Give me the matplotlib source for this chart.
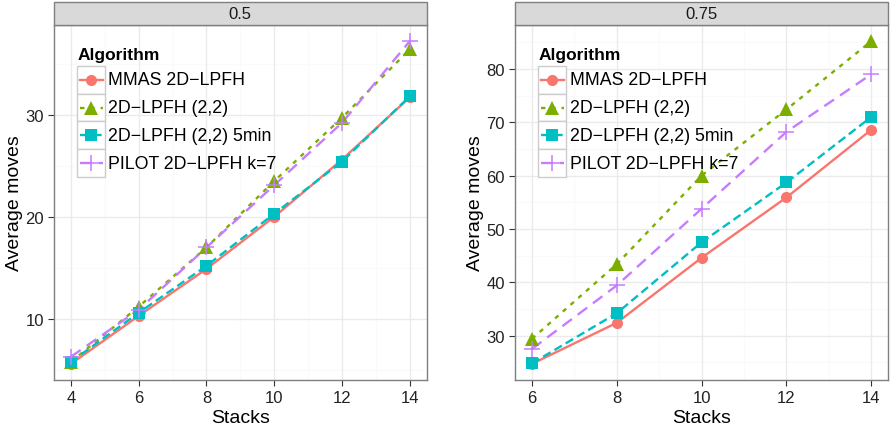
import numpy as np
import matplotlib
matplotlib.use("Agg")
import matplotlib.pyplot as plt
from matplotlib.patches import Rectangle
from matplotlib.lines import Line2D

plt.rcParams['font.family'] = ['Liberation Sans', 'DejaVu Sans']
plt.rcParams['lines.scale_dashes'] = False

# Dane
algorytmy = ["MMAS 2D\u2212LPFH", "2D\u2212LPFH (2,2)", "2D\u2212LPFH (2,2) 5min", "PILOT 2D\u2212LPFH k=7"]
panele = ["0.5", "0.75"]

stosy_05 = [4, 6, 8, 10, 12, 14]
ruchy_05 = {
    "MMAS 2D\u2212LPFH":        [5.6, 10.3, 14.9, 20.0, 25.6, 31.7],
    "2D\u2212LPFH (2,2)":       [5.8, 11.2, 17.0, 23.5, 29.7, 36.4],
    "2D\u2212LPFH (2,2) 5min":  [5.8, 10.6, 15.2, 20.3, 25.4, 31.8],
    "PILOT 2D\u2212LPFH k=7":   [6.3, 10.9, 17.0, 23.1, 29.2, 37.2],
}
stosy_075 = [6, 8, 10, 12, 14]
ruchy_075 = {
    "MMAS 2D\u2212LPFH":        [24.7, 32.4, 44.6, 55.9, 68.6],
    "2D\u2212LPFH (2,2)":       [29.4, 43.4, 60.0, 72.4, 85.2],
    "2D\u2212LPFH (2,2) 5min":  [24.8, 34.2, 47.5, 58.7, 71.0],
    "PILOT 2D\u2212LPFH k=7":   [27.5, 39.4, 53.8, 68.2, 79.0],
}

# Styl
kolory = ["#F8766D", "#7CAE00", "#00BFC4", "#C77CFF"]
markery = ["o", "^", "s", "+"]
rozmiary = [8, 9.5, 8.5, 12]
kreski = [None, (0, (3.2, 4.2)), (0, (6.2, 3.2)), (0, (8.5, 5.2))]
grubosc = 1.7

figura = plt.figure(figsize=(8.9, 4.31), dpi=100)
osie = [figura.add_axes([54 / 890, 50 / 431, 372.7 / 890, 355 / 431]),
        figura.add_axes([515 / 890, 50 / 431, 373.3 / 890, 355 / 431])]

ustawienia = [
    (stosy_05, ruchy_05, [4, 6, 8, 10, 12, 14], [10, 20, 30], np.arange(5, 14, 2), [5, 15, 25, 35]),
    (stosy_075, ruchy_075, [6, 8, 10, 12, 14], [30, 40, 50, 60, 70, 80], [7, 9, 11, 13], np.arange(25, 90, 10)),
]

for os, nazwa, (x, dane, xt, yt, xm, ym) in zip(osie, panele, ustawienia):
    wszystkie = np.concatenate([dane[a] for a in algorytmy])
    zakres = wszystkie.max() - wszystkie.min()
    os.set_ylim(wszystkie.min() - 0.05 * zakres, wszystkie.max() + 0.05 * zakres)
    xr = max(x) - min(x)
    os.set_xlim(min(x) - 0.05 * xr, max(x) + 0.05 * xr)

    # siatka
    for v in xm:
        os.axvline(v, color="#FAFAFA", lw=0.8, zorder=0)
    for v in ym:
        os.axhline(v, color="#FAFAFA", lw=0.8, zorder=0)
    for v in xt:
        os.axvline(v, color="#EBEBEB", lw=1.0, zorder=0.5)
    for v in yt:
        os.axhline(v, color="#EBEBEB", lw=1.0, zorder=0.5)

    for i, a in enumerate(algorytmy):
        ls = "-" if kreski[i] is None else kreski[i]
        os.plot(x, dane[a], color=kolory[i], lw=grubosc, linestyle=ls, zorder=2,
                dash_capstyle="butt")
    for i, a in enumerate(algorytmy):
        os.plot(x, dane[a], color=kolory[i], marker=markery[i], ms=rozmiary[i],
                mew=1.1 if markery[i] == "+" else 0, linestyle="none", zorder=3)

    os.set_xticks(xt)
    os.set_yticks(yt)
    os.tick_params(axis="both", length=4.25, width=0.8, color="#333333",
                   labelsize=12, labelcolor="#222222", pad=3)
    for s in os.spines.values():
        s.set_color("#7F7F7F")
        s.set_linewidth(1.0)
    os.set_xlabel("Stacks", fontsize=14, labelpad=3)
    os.set_ylabel("Average moves", fontsize=14, labelpad=1.5)

    # pasek z nazwa panelu
    pasek = Rectangle((0, 1.0), 1, 23.3 / 355, transform=os.transAxes, clip_on=False,
                      facecolor="#D9D9D9", edgecolor="#7F7F7F", lw=1.0, zorder=5)
    os.add_patch(pasek)
    os.text(0.5, 1.0 + 11.65 / 355, nazwa, transform=os.transAxes, ha="center",
            va="center", fontsize=12, color="#1A1A1A", zorder=6)

    # legenda
    os.text(0.0625, 0.918, "Algorithm", transform=os.transAxes, fontsize=12.5,
            fontweight="bold", va="center", ha="left", zorder=10)
    wys = 27.9 / 355
    szer = 27.7 / 372.7
    for i, a in enumerate(algorytmy):
        gora = 0.8854 - i * wys
        os.add_patch(Rectangle((0.0625, gora - wys), szer, wys, transform=os.transAxes,
                               facecolor="white", edgecolor="#CCCCCC", lw=1.0, zorder=8))
        yc = gora - wys / 2
        ls = "-" if kreski[i] is None else kreski[i]
        os.add_line(Line2D([0.0625 + 0.006, 0.0625 + szer - 0.006], [yc, yc],
                           transform=os.transAxes, color=kolory[i], lw=grubosc,
                           linestyle=ls, dash_capstyle="butt", zorder=9))
        os.add_line(Line2D([0.0625 + szer / 2], [yc], transform=os.transAxes,
                           color=kolory[i], marker=markery[i], ms=rozmiary[i],
                           mew=1.1 if markery[i] == "+" else 0, zorder=9))
        os.text(0.146, yc, a, transform=os.transAxes, fontsize=12.8, va="center",
                ha="left", zorder=10)

figura.savefig("out.png", dpi=100)
